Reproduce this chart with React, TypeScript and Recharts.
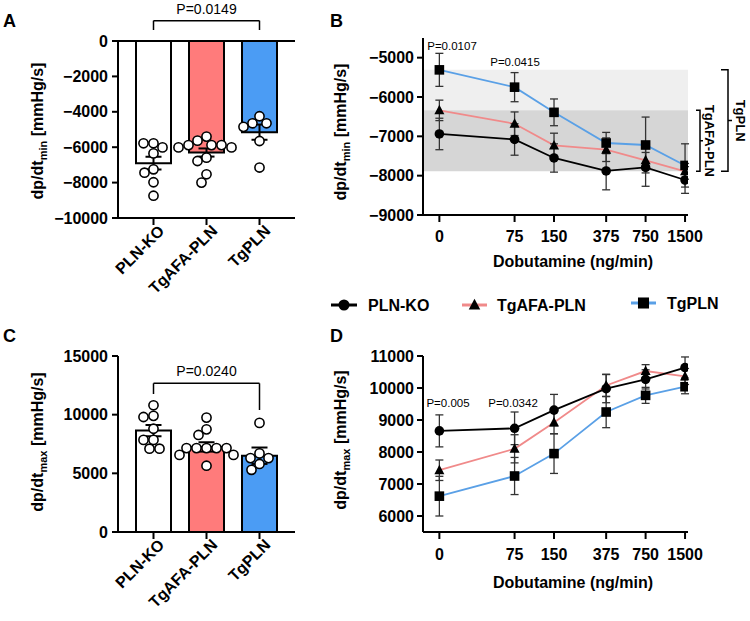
import React from "react";
import {
  ComposedChart,
  LineChart,
  Bar,
  Cell,
  Line,
  Scatter,
  XAxis,
  YAxis,
  ErrorBar,
  ReferenceLine,
  ReferenceArea,
} from "recharts";

const FONT = "'Liberation Sans', Arial, Helvetica, sans-serif";

// ─── Data ──────────────────────────────────────────────────────────────────────

const groups = ["PLN-KO", "TgAFA-PLN", "TgPLN"];
const groupFills = ["#ffffff", "#ff7b7b", "#4b9cf4"];

// A: dp/dt min (mean ± SEM, single animals)
const minMeans = [-6900, -6300, -5150];
const minSems = [360, 230, 430];
const minKO = [-5780, -5780, -6010, -6350, -7250, -7440, -7980, -8740];
const minAFA = [-5400, -5630, -5880, -5880, -5880, -6010, -6010, -6590, -6780, -7530, -8000];
const minTg = [-4250, -4650, -4650, -4850, -5650, -7150];

// C: dp/dt max
const maxMeans = [8640, 7250, 6500];
const maxSems = [480, 400, 700];
const maxKO = [10800, 9900, 9800, 8800, 7850, 7850, 7100, 7100];
const maxAFA = [9750, 8750, 8270, 7150, 7150, 7150, 7150, 7150, 6570, 6570, 5650];
const maxTg = [9300, 6700, 6300, 6300, 5800, 5300];

// B / D: dobutamine dose response
const doses = [0, 75, 150, 375, 750, 1500];
const ZERO_POS = 20; // dose 0 is drawn here on the log axis

const minDoseKO = [-6940, -7080, -7550, -7880, -7790, -8110];
const minDoseKOErr = [400, 400, 360, 480, 480, 340];
const minDoseAFA = [-6340, -6680, -7230, -7340, -7610, -7890];
const minDoseAFAErr = [260, 300, 310, 300, 200, 200];
const minDoseTg = [-5310, -5750, -6390, -7170, -7220, -7740];
const minDoseTgErr = [420, 370, 340, 270, 710, 550];

const maxDoseKO = [8660, 8740, 9310, 9980, 10270, 10640];
const maxDoseKOErr = [500, 510, 490, 440, 300, 330];
const maxDoseAFA = [7430, 8100, 8920, 10080, 10530, 10360];
const maxDoseAFAErr = [320, 440, 350, 350, 200, 250];
const maxDoseTg = [6620, 7250, 7950, 9250, 9770, 10040];
const maxDoseTgErr = [620, 580, 620, 490, 250, 220];

const series = [
  { name: "PLN-KO", key: "ko", color: "#000000", shape: "circle" },
  { name: "TgAFA-PLN", key: "afa", color: "#f08a8a", shape: "triangle" },
  { name: "TgPLN", key: "tg", color: "#5aa0e6", shape: "square" },
];

const doseRows = (ko, koErr, afa, afaErr, tg, tgErr) =>
  doses.map((d, i) => ({
    pos: d === 0 ? ZERO_POS : d,
    ko: ko[i], koErr: koErr[i],
    afa: afa[i], afaErr: afaErr[i],
    tg: tg[i], tgErr: tgErr[i],
  }));

const minDoseRows = doseRows(minDoseKO, minDoseKOErr, minDoseAFA, minDoseAFAErr, minDoseTg, minDoseTgErr);
const maxDoseRows = doseRows(maxDoseKO, maxDoseKOErr, maxDoseAFA, maxDoseAFAErr, maxDoseTg, maxDoseTgErr);

// ─── Helpers ───────────────────────────────────────────────────────────────────

// simple beeswarm: push each dot sideways until it no longer overlaps
function swarm(values: number[], pxPerUnit: number, minDist = 9.5): number[] {
  const placed: { y: number; dx: number }[] = [];
  return values.map((v) => {
    const y = v * pxPerUnit;
    let dx = 0;
    for (let k = 0; k <= 40; k++) {
      const cands = k === 0 ? [0] : [-k, k];
      const hit = cands.find((c) =>
        placed.every((p) => (p.dx - c) ** 2 + (p.y - y) ** 2 >= minDist ** 2)
      );
      if (hit !== undefined) {
        dx = hit;
        break;
      }
    }
    placed.push({ y, dx });
    return dx;
  });
}

const tickStyle = { fill: "#000", fontSize: 16, fontWeight: 700, fontFamily: FONT };
const axisLine = { stroke: "#000", strokeWidth: 2 };
// GraphPad prints a real minus sign on the axes
const fmtTick = (v: number) => (v < 0 ? `\u2212${Math.abs(v)}` : String(v));

function SlantTick({ x, y, payload }: any) {
  return (
    <text
      transform={`translate(${x + 8},${y + 1}) rotate(-45)`}
      textAnchor="end"
      dominantBaseline="central"
      {...tickStyle}
    >
      {payload.value}
    </text>
  );
}

function HollowDot(p: any) {
  if (p.cx == null || p.cy == null) return <g />;
  return (
    <circle
      cx={p.cx + (p.payload?.dx ?? 0)}
      cy={p.cy}
      r={4.6}
      fill="#fff"
      stroke="#000"
      strokeWidth={1.6}
    />
  );
}

function Marker({ cx, cy, shape, big }: any) {
  if (cx == null || cy == null) return <g />;
  const s = big ? 1.15 : 1;
  if (shape === "circle") return <circle cx={cx} cy={cy} r={4.8 * s} fill="#000" />;
  if (shape === "triangle")
    return (
      <polygon
        points={`${cx},${cy - 5.5 * s} ${cx + 5 * s},${cy + 4 * s} ${cx - 5 * s},${cy + 4 * s}`}
        fill="#000"
      />
    );
  return <rect x={cx - 4.8 * s} y={cy - 4.8 * s} width={9.6 * s} height={9.6 * s} fill="#000" />;
}

// ─── Bar panels (A, C) ────────────────────────────────────────────────────────

function BarPanel({ top, height, marginTop, xAxisH, means, sems, animals, domain, ticks, bracket, pLabel, zeroLine }: any) {
  const rows = groups.map((cat, i) => ({ cat, mean: means[i], sem: sems[i] }));
  const plotH = height - marginTop - xAxisH;
  const ppu = plotH / (domain[1] - domain[0]);
  const dots = animals.flatMap((vals: number[], g: number) => {
    const dxs = swarm(vals, ppu);
    return vals.map((value, i) => ({ cat: groups[g], value, dx: dxs[i] }));
  });
  const seg = { stroke: "#000", strokeWidth: 1.5, ifOverflow: "visible" as const };
  return (
    <div style={{ position: "absolute", left: 0, top }}>
      <ComposedChart width={300} height={height} data={rows} margin={{ top: marginTop, right: 5, left: 38, bottom: 0 }}>
        <XAxis
          dataKey="cat"
          type="category"
          allowDuplicatedCategory={false}
          padding={{ left: 9, right: 9 }}
          height={xAxisH}
          interval={0}
          tickSize={7}
          tick={<SlantTick />}
          axisLine={axisLine}
          tickLine={axisLine}
        />
        <YAxis
          type="number"
          domain={domain}
          ticks={ticks}
          interval={0}
          allowDataOverflow
          width={80}
          tickSize={6}
          tickMargin={4}
          tick={tickStyle}
          tickFormatter={fmtTick}
          axisLine={axisLine}
          tickLine={axisLine}
        />
        <Bar dataKey="mean" barSize={35} stroke="#000" strokeWidth={2} isAnimationActive={false}>
          {rows.map((r, i) => (
            <Cell key={r.cat} fill={groupFills[i]} />
          ))}
        </Bar>
        <Scatter data={dots} dataKey="value" shape={HollowDot} isAnimationActive={false} />
        <Scatter data={rows} dataKey="mean" shape={() => <g />} isAnimationActive={false}>
          <ErrorBar dataKey="sem" width={8} stroke="#000" strokeWidth={2} direction="y" />
        </Scatter>
        {zeroLine && <ReferenceLine y={0} stroke="#000" strokeWidth={2} ifOverflow="visible" />}
        <ReferenceLine
          segment={[{ x: groups[0], y: bracket.y }, { x: groups[2], y: bracket.y }]}
          {...seg}
          label={{ value: pLabel, position: "top", offset: 7, fill: "#000", fontSize: 14, fontFamily: FONT }}
        />
        <ReferenceLine segment={[{ x: groups[0], y: bracket.y }, { x: groups[0], y: bracket.left }]} {...seg} />
        <ReferenceLine segment={[{ x: groups[2], y: bracket.y }, { x: groups[2], y: bracket.right }]} {...seg} />
      </ComposedChart>
    </div>
  );
}

// ─── Dose panels (B, D) ───────────────────────────────────────────────────────

function DosePanel({ top, marginTop, xAxisH, rows, domain, ticks, xTickMargin, shade }: any) {
  const drawOrder = [series[2], series[1], series[0]];
  return (
    <div style={{ position: "absolute", left: 330, top }}>
      <LineChart width={420} height={300} data={rows} margin={{ top: marginTop, right: 62, left: 13, bottom: 0 }}>
        {shade &&
          shade.map((s: any, i: number) => (
            <ReferenceArea key={i} y1={s.y1} y2={s.y2} fill={s.fill} fillOpacity={1} stroke="none" ifOverflow="visible" />
          ))}
        <XAxis
          dataKey="pos"
          type="number"
          scale="log"
          domain={[15, 1580]}
          ticks={doses.map((d) => (d === 0 ? ZERO_POS : d))}
          tickFormatter={(v) => (v === ZERO_POS ? "0" : String(v))}
          interval={0}
          allowDataOverflow
          height={xAxisH}
          tickSize={7}
          tickMargin={xTickMargin}
          tick={tickStyle}
          axisLine={axisLine}
          tickLine={axisLine}
        />
        <YAxis
          type="number"
          domain={domain}
          ticks={ticks}
          interval={0}
          allowDataOverflow
          width={80}
          tickSize={6}
          tickMargin={3}
          tick={tickStyle}
          tickFormatter={fmtTick}
          axisLine={axisLine}
          tickLine={axisLine}
        />
        {drawOrder.map((s) => (
          <Line
            key={s.key}
            type="linear"
            dataKey={s.key}
            stroke={s.color}
            strokeWidth={1.8}
            isAnimationActive={false}
            dot={(p: any) => <Marker key={`${s.key}-${p.index}`} cx={p.cx} cy={p.cy} shape={s.shape} />}
            activeDot={false}
          >
            <ErrorBar dataKey={`${s.key}Err`} width={4} stroke="#333" strokeWidth={1.3} direction="y" />
          </Line>
        ))}
      </LineChart>
    </div>
  );
}

// ─── Overlay texts ────────────────────────────────────────────────────────────

function YLabel({ x, y, sub }: any) {
  return (
    <text transform={`translate(${x},${y}) rotate(-90)`} textAnchor="middle" fontSize={16} fontWeight={700} fontFamily={FONT} fill="#000">
      dp/dt
      <tspan fontSize={11} dy={4}>{sub}</tspan>
      <tspan dy={-4}> [mmHg/s]</tspan>
    </text>
  );
}

// B panel geometry (for the brackets right of the plot)
const B_TOP = 38;
const B_H = 177;
const B_DOMAIN = [-9000, -4500];
const bY = (v: number) => B_TOP + ((B_DOMAIN[1] - v) / (B_DOMAIN[1] - B_DOMAIN[0])) * B_H;

const legendItems = [
  { ...series[0], x0: 331, x1: 357, tx: 368, cy: 305 },
  { ...series[1], x0: 462, x1: 487, tx: 497, cy: 305 },
  { ...series[2], x0: 631, x1: 656, tx: 667, cy: 303 },
];

function Overlay() {
  const letter = { fontSize: 18, fontWeight: 700, fontFamily: FONT, fill: "#000" };
  const pSmall = { fontSize: 11.5, fontFamily: FONT, fill: "#000", textAnchor: "middle" as const };
  const afaTop = bY(minDoseAFA[0]);
  const afaBot = bY(minDoseAFA[5]);
  const tgTop = bY(minDoseTg[0]);
  const bw = { stroke: "#000", strokeWidth: 1.5, fill: "none" };
  return (
    <svg width={750} height={621} style={{ position: "absolute", left: 0, top: 0, pointerEvents: "none" }}>
      <text x={3} y={27} {...letter}>A</text>
      <text x={330} y={27} {...letter}>B</text>
      <text x={3} y={342} {...letter}>C</text>
      <text x={330} y={342} {...letter}>D</text>

      <YLabel x={43} y={131} sub="min" />
      <YLabel x={43} y={442} sub="max" />
      <YLabel x={346} y={132} sub="min" />
      <YLabel x={346} y={440} sub="max" />

      <text x={573} y={267} textAnchor="middle" fontSize={16} fontWeight={700} fontFamily={FONT}>Dobutamine (ng/min)</text>
      <text x={573} y={588} textAnchor="middle" fontSize={16} fontWeight={700} fontFamily={FONT}>Dobutamine (ng/min)</text>

      <text x={452} y={50} {...pSmall}>P=0.0107</text>
      <text x={515} y={66} {...pSmall}>P=0.0415</text>
      <text x={448} y={407} {...pSmall}>P=0.005</text>
      <text x={513} y={407} {...pSmall}>P=0.0342</text>

      {/* group brackets right of panel B */}
      <path d={`M696,${afaTop} H700 V${afaBot} H696 M700,${(afaTop + afaBot) / 2} H703`} {...bw} />
      <text transform={`translate(705,${(afaTop + afaBot) / 2}) rotate(90)`} textAnchor="middle" fontSize={13} fontWeight={700} fontFamily={FONT}>TgAFA-PLN</text>
      <path d={`M721,${tgTop} H728 V${afaBot} H721 M728,${(tgTop + afaBot) / 2} H732`} {...bw} />
      <text transform={`translate(736,${(tgTop + afaBot) / 2}) rotate(90)`} textAnchor="middle" fontSize={13} fontWeight={700} fontFamily={FONT}>TgPLN</text>

      {legendItems.map((l) => (
        <g key={l.key}>
          <line x1={l.x0} x2={l.x1} y1={l.cy} y2={l.cy} stroke={l.color} strokeWidth={3} />
          <Marker cx={(l.x0 + l.x1) / 2} cy={l.cy} shape={l.shape} big />
          <text x={l.tx} y={l.cy + 6} fontSize={16} fontWeight={700} fontFamily={FONT}>{l.name}</text>
        </g>
      ))}
    </svg>
  );
}

// ─── App ───────────────────────────────────────────────────────────────────────

export default function App() {
  return (
    <div style={{ position: "absolute", left: 0, top: 0, width: 750, height: 621, background: "#fff", overflow: "hidden" }}>
      <BarPanel
        top={0}
        height={312}
        marginTop={41}
        xAxisH={94}
        means={minMeans}
        sems={minSems}
        animals={[minKO, minAFA, minTg]}
        domain={[-10000, 0]}
        ticks={[-10000, -8000, -6000, -4000, -2000, 0]}
        bracket={{ y: 1150, left: 620, right: 620 }}
        pLabel="P=0.0149"
        zeroLine
      />
      <BarPanel
        top={300}
        height={321}
        marginTop={56}
        xAxisH={89}
        means={maxMeans}
        sems={maxSems}
        animals={[maxKO, maxAFA, maxTg]}
        domain={[0, 15000]}
        ticks={[0, 5000, 10000, 15000]}
        bracket={{ y: 12670, left: 11760, right: 10400 }}
        pLabel="P=0.0240"
      />
      <DosePanel
        top={0}
        marginTop={B_TOP}
        xAxisH={85}
        rows={minDoseRows}
        domain={B_DOMAIN}
        ticks={[-9000, -8000, -7000, -6000, -5000]}
        xTickMargin={9}
        shade={[
          { y1: minDoseTg[0], y2: minDoseAFA[0], fill: "#efefef" },
          { y1: minDoseAFA[0], y2: minDoseAFA[5], fill: "#d6d6d6" },
        ]}
      />
      <DosePanel
        top={300}
        marginTop={56}
        xAxisH={68}
        rows={maxDoseRows}
        domain={[5500, 11000]}
        ticks={[6000, 7000, 8000, 9000, 10000, 11000]}
        xTickMargin={10}
      />
      <Overlay />
    </div>
  );
}
